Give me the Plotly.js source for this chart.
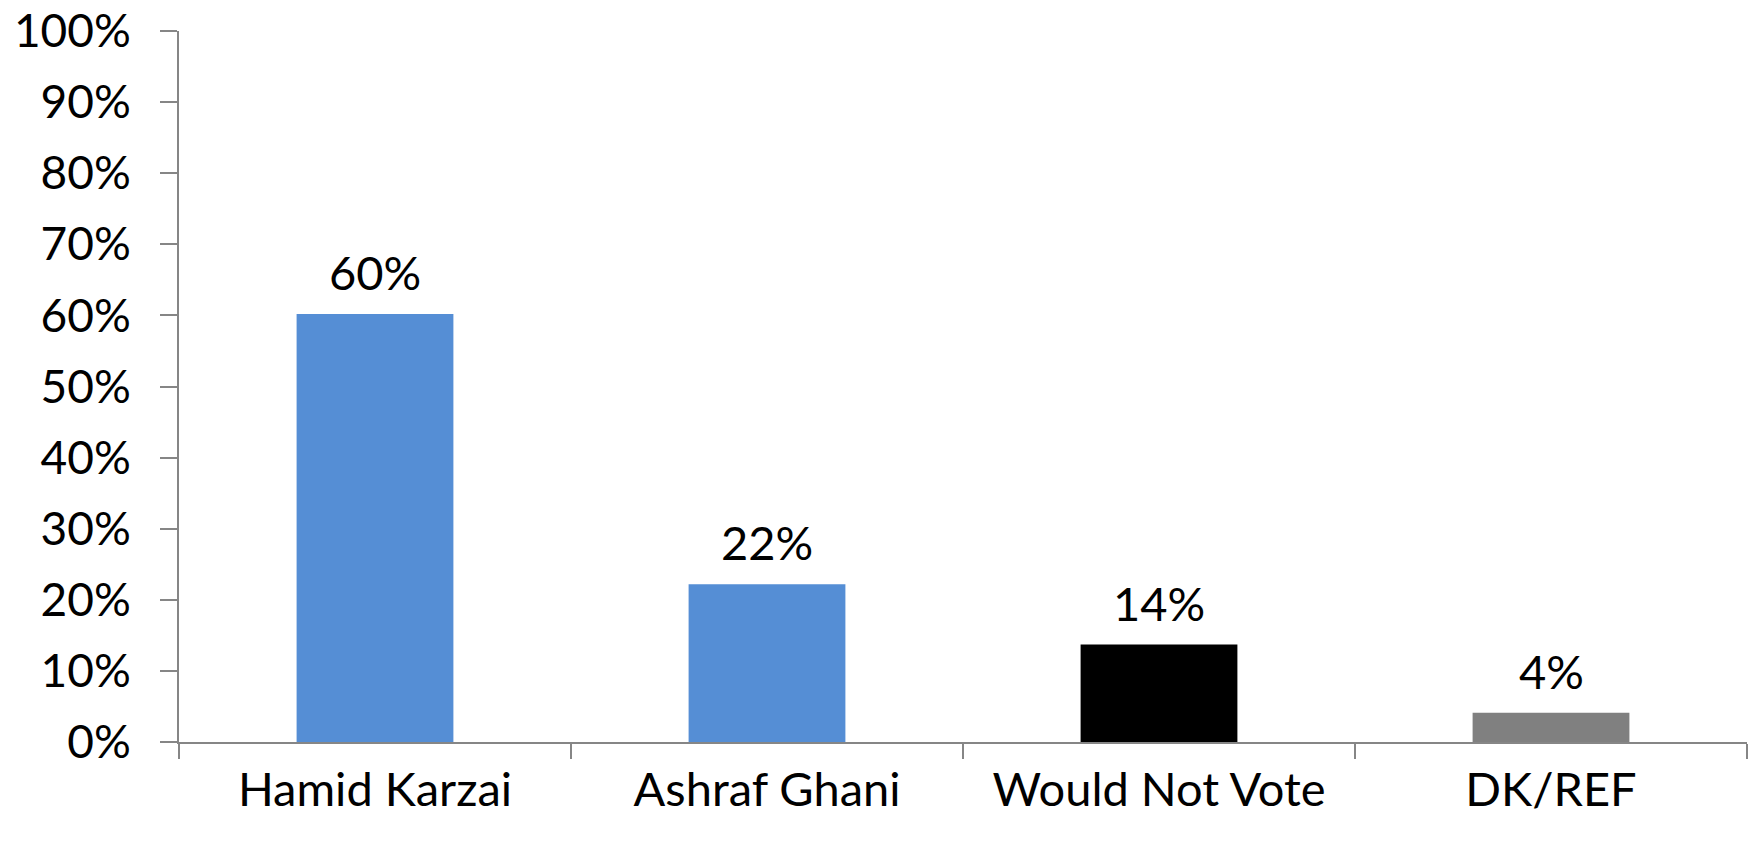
<!DOCTYPE html>
<html>
<head>
<meta charset="utf-8">
<script src="https://cdn.plot.ly/plotly-3.0.1.min.js"></script>
<style>html,body{margin:0;padding:0;background:#fff;}#chart{width:1752px;height:843px;}</style>
</head>
<body>
<div id="chart"></div>
<script>
var categories = ["Hamid Karzai", "Ashraf Ghani", "Would Not Vote", "DK/REF"];
var values = [0.602, 0.222, 0.137, 0.041];
var labels = ["60%", "22%", "14%", "4%"];
var barColors = ["#558ED5", "#558ED5", "#000000", "#808080"];
var yTickVals = [0, 0.1, 0.2, 0.3, 0.4, 0.5, 0.6, 0.7, 0.8, 0.9, 1.0];
var yTickText = ["0%", "10%", "20%", "30%", "40%", "50%", "60%", "70%", "80%", "90%", "100%"];

var FONT = "Lato, 'Open Sans', sans-serif";
var FS = 46;

var trace = {
  type: "bar",
  x: categories,
  y: values,
  marker: {color: barColors, line: {width: 0}},
  width: 0.4,
  hoverinfo: "skip"
};

var annotations = categories.map(function (c, i) {
  return {
    x: c, y: values[i], text: labels[i],
    xref: "x", yref: "y", showarrow: false,
    yanchor: "bottom", yshift: 12,
    font: {family: FONT, size: 47, color: "#000"}
  };
});

var layout = {
  width: 1752, height: 843,
  margin: {l: 179, r: 5, t: 31, b: 101},
  paper_bgcolor: "#fff", plot_bgcolor: "#fff",
  showlegend: false,
  font: {family: FONT, size: FS, color: "#000"},
  xaxis: {
    type: "category",
    showline: true, linecolor: "#868686", linewidth: 2,
    ticks: "outside", tickson: "boundaries", ticklen: 15, tickcolor: "#868686", tickwidth: 2,
    showgrid: false, zeroline: false,
    tickfont: {family: FONT, size: 47, color: "#000"},
    ticklabelstandoff: 6
  },
  yaxis: {
    range: [0, 1],
    tickvals: yTickVals, ticktext: yTickText,
    showline: true, linecolor: "#868686", linewidth: 2,
    ticks: "outside", ticklen: 17, tickcolor: "#868686", tickwidth: 2,
    showgrid: false, zeroline: false,
    tickfont: {family: FONT, size: FS, color: "#000"},
    ticklabelstandoff: 20,
    ticklabeloverflow: "allow"
  },
  annotations: annotations
};

Plotly.newPlot("chart", [trace], layout, {displayModeBar: false, staticPlot: true});
</script>
</body>
</html>
